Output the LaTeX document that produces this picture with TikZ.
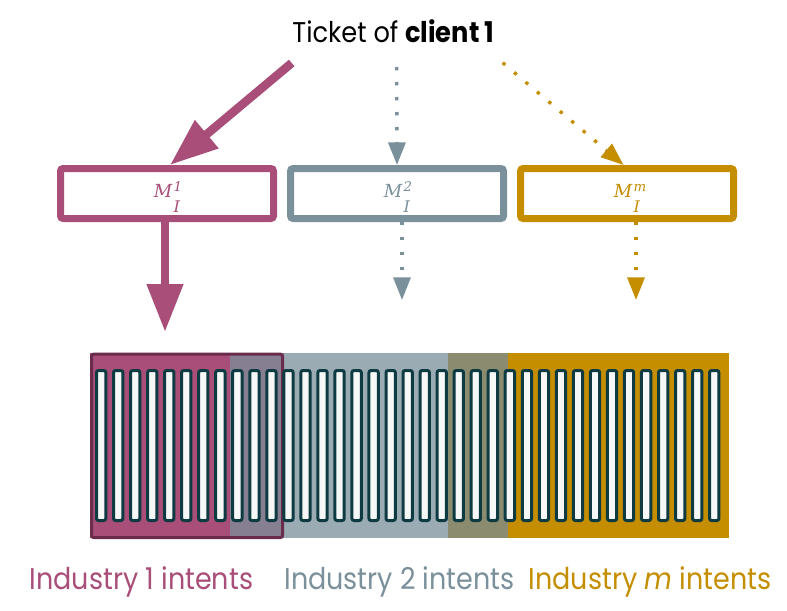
\documentclass[tikz,border=0pt]{standalone}
\usepackage{fontspec}
\setmainfont[FakeStretch=0.9]{Poppins}
\newfontfamily\modelfont{DejaVu Serif}
\usepackage{tikz}
\usetikzlibrary{arrows.meta,positioning}

\definecolor{pinkc}{HTML}{A84E78}
\definecolor{grayc}{HTML}{7A909B}
\definecolor{yelc}{HTML}{C48E00}
\definecolor{bandgray}{HTML}{9BABB4}
\definecolor{mixpg}{HTML}{867E91}
\definecolor{mixgy}{HTML}{8A8B6F}
\definecolor{outc}{HTML}{6B2C4C}
\definecolor{barc}{HTML}{0E3B42}
\definecolor{slotc}{HTML}{F6F8F8}

\tikzstyle{model}=[draw,line width=5.25pt,rounded corners=2pt,fill=white,
minimum width=159.75pt,minimum height=37.5pt,inner sep=0pt,
text height=18.5pt,text depth=13.25pt,
font=\modelfont\itshape\fontsize{13.5}{15}\selectfont]
\tikzstyle{solidarrow}=[draw=pinkc,line width=6.45pt,-{Triangle[length=36pt,width=26pt]}]
\tikzstyle{dotarrow}=[line width=2.5pt,dash pattern=on 2.5pt off 8.75pt,
-{Triangle[length=17pt,width=12.75pt]}]
\tikzstyle{industry}=[anchor=base,inner sep=0pt,font=\fontsize{22.5}{26}\selectfont]
\tikzstyle{slot}=[draw=barc,fill=slotc,line width=2.25pt,rounded corners=1.5pt]

\newcommand{\mdl}[1]{M\kern1pt\rlap{\raisebox{4.5pt}{\fontsize{10}{11}\selectfont #1}}\raisebox{-11.75pt}{\fontsize{12}{13}\selectfont I}}

\begin{document}
\begin{tikzpicture}[x=0.75pt,y=-0.75pt]
			\useasboundingbox (0,0) rectangle (787,610);

			% ticket and the three models
			\node[anchor=base,inner sep=0pt,font=\fontsize{21.4}{25}\selectfont] (ticket) at (393.5,43) {Ticket of \textbf{client 1}};

			\node[model,draw=pinkc,text=pinkc] (m1) at (167,193.5) {\mdl{1}};
			\node[model,draw=grayc,text=grayc,right=7.5pt of m1] (m2) {\mdl{2}};
			\node[model,draw=yelc,text=yelc,right=7.5pt of m2] (m3) {\mdl{m}};

			\coordinate (s1) at (291.7,63);
			\coordinate (s2) at (396.7,67);
			\coordinate (s3) at (502.7,62.7);
			\coordinate (e1) at (165,332);
			\coordinate (e2) at (402,300);
			\coordinate (e3) at (636,300);

			\draw[solidarrow] (s1) -- ([xshift=2.25pt]m1.north);
			\draw[dotarrow,draw=grayc] (s2) -- (m2.north);
			\draw[dotarrow,draw=yelc] (s3) -- ([xshift=-2.6pt]m3.north);

			\draw[solidarrow] ([xshift=-1.5pt]m1.south) -- (e1);
			\draw[dotarrow,draw=grayc] ([xshift=3.75pt]m2.south) -- (e2);
			\draw[dotarrow,draw=yelc] ([xshift=6.75pt]m3.south) -- (e3);

			% intent bands
			\fill[pinkc] (90,353) rectangle (230,538);
			\fill[mixpg] (230,353) rectangle (284,538);
			\fill[bandgray] (284,353) rectangle (448,538);
			\fill[mixgy] (448,353) rectangle (508,538);
			\fill[yelc] (508,353) rectangle (729,538);
			\draw[outc,line width=2.25pt,rounded corners=1.5pt] (91.5,354.2) rectangle (282.5,537.5);

			\foreach \i in {0,...,36}
				\draw[slot] (96.5+17.03*\i,370.5) rectangle (105.8+17.03*\i,520.5);

			% labels
			\node[industry,text=pinkc] (l1) at (141.4,589) {Industry 1 intents};
			\node[industry,text=grayc] (l2) at (399.5,589) {Industry 2 intents};
			\node[industry,text=yelc] (l3) at (650,589) {Industry \textit{m} intents};
		\end{tikzpicture}
\end{document}
